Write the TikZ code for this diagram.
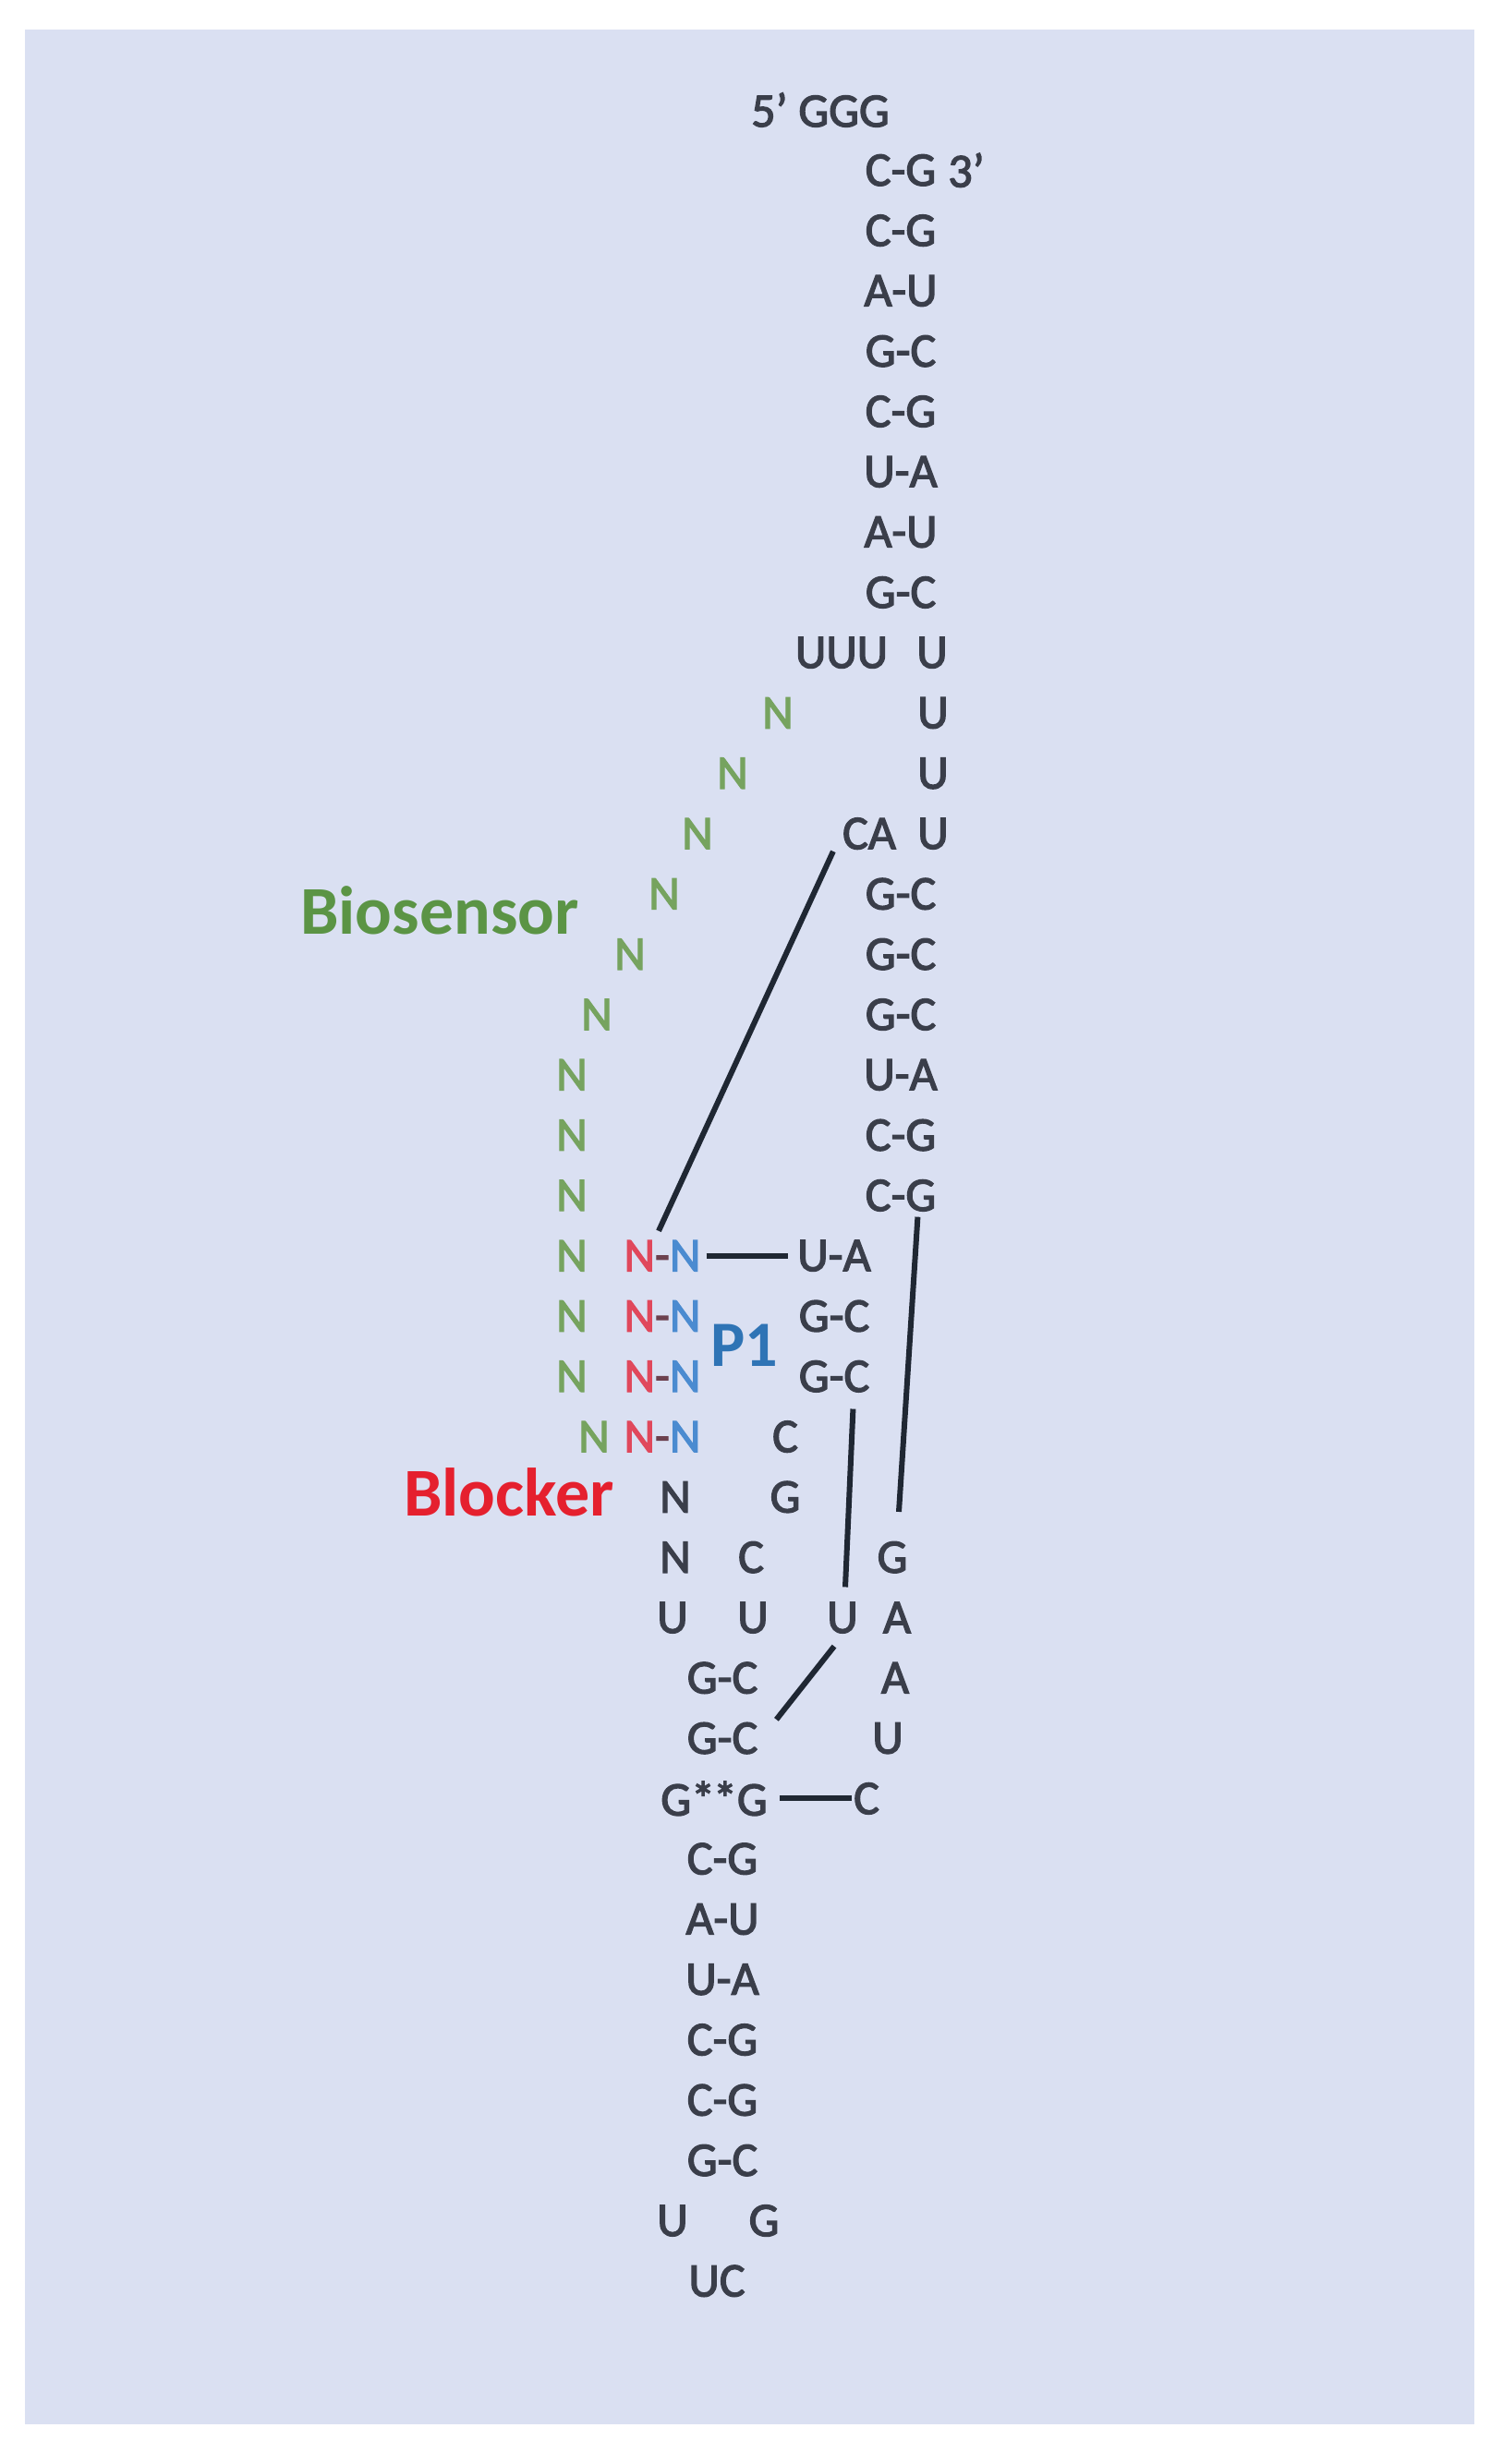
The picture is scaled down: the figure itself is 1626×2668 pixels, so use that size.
\documentclass[tikz,border=0pt]{standalone}
\usepackage{fontspec}
\setmainfont{Carlito}
\newfontfamily\nucfont{Carlito}[FakeBold=2.5]
\usetikzlibrary{calc}
\definecolor{bgc}{HTML}{DAE0F2}
\definecolor{txt}{HTML}{3A3E4A}
\definecolor{lnc}{HTML}{1F2733}
\definecolor{ngreen}{HTML}{76A35F}
\definecolor{biogreen}{HTML}{5B9445}
\definecolor{nred}{HTML}{E0485C}
\definecolor{blockred}{HTML}{E5202E}
\definecolor{nblue}{HTML}{4B8BD0}
\definecolor{ponecol}{HTML}{2F74B5}
\begin{document}
\begin{tikzpicture}[x=1pt,y=-1pt,
  nt/.style={inner sep=0pt, text=txt, font=\nucfont\fontsize{52}{60}\selectfont},
  gn/.style={nt, text=ngreen},
  lab/.style={inner sep=0pt, font=\fontsize{74}{80}\selectfont\bfseries},
  bond/.style={draw=lnc, line width=6pt}]
\fill[white] (0,0) rectangle (1626,2668);
\fill[bgc] (27,32) rectangle (1596,2625);
\useasboundingbox (0,0) rectangle (1626,2668);
% top
\node[nt] (t0) at (888,119) {5’ GGG};
\node[nt] (p1) at (975,184.3) {C-G};
\node[nt] (three) at (1046,184.3) {3’};
\node[nt] (p2) at (975,249.6) {C-G};
\node[nt] (p3) at (975,314.9) {A-U};
\node[nt] (p4) at (975,380.2) {G-C};
\node[nt] (p5) at (975,445.5) {C-G};
\node[nt] (p6) at (975,510.8) {U-A};
\node[nt] (p7) at (975,576.1) {A-U};
\node[nt] (p8) at (975,641.4) {G-C};
\node[nt] (uuu) at (911,706.7) {UUU};
\node[nt] (u9) at (1009,706.7) {U};
\node[nt] (u10) at (1010,772) {U};
\node[nt] (u11) at (1010,837.3) {U};
\node[nt] (u12) at (1010,902.6) {U};
\node[nt] (ca) at (941,902.6) {CA};
% biosensor strand
\node[gn] (n10) at (842,772) {N};
\node[gn] (n11) at (793,837.3) {N};
\node[gn] (n12) at (755,902.6) {N};
\node[gn] (n13) at (719,967.9) {N};
\node[gn] (n14) at (682,1033.2) {N};
\node[gn] (n15) at (646,1098.5) {N};
\node[gn] (n16) at (619,1163.8) {N};
\node[gn] (n17) at (619,1229.1) {N};
\node[gn] (n18) at (619,1294.4) {N};
\node[gn] (n19) at (619,1359.7) {N};
\node[gn] (n20) at (619,1425) {N};
\node[gn] (n21) at (619,1490.3) {N};
\node[gn] (n22) at (643,1555.6) {N};
\node[lab, text=biogreen] (bio) at (476,986) {Biosensor};
% middle helix
\node[nt] (q13) at (975,967.9) {G-C};
\node[nt] (q14) at (975,1033.2) {G-C};
\node[nt] (q15) at (975,1098.5) {G-C};
\node[nt] (q16) at (975,1163.8) {U-A};
\node[nt] (q17) at (975,1229.1) {C-G};
\node[nt] (q18) at (975,1294.4) {C-G};
% P1
\node[nt] (nn19) at (717,1359.7) {\textcolor{nred}{N}\textcolor{txt!70!nred}{-}\textcolor{nblue}{N}};
\node[nt] (nn20) at (717,1425) {\textcolor{nred}{N}\textcolor{txt!70!nred}{-}\textcolor{nblue}{N}};
\node[nt] (nn21) at (717,1490.3) {\textcolor{nred}{N}\textcolor{txt!70!nred}{-}\textcolor{nblue}{N}};
\node[nt] (nn22) at (717,1555.6) {\textcolor{nred}{N}\textcolor{txt!70!nred}{-}\textcolor{nblue}{N}};
\node[inner sep=0pt, font=\fontsize{70}{76}\selectfont\bfseries, text=ponecol] (pone) at (806,1457) {P1};
\node[nt] (r19) at (903,1359.7) {U-A};
\node[nt] (r20) at (903,1425) {G-C};
\node[nt] (r21) at (903,1490.3) {G-C};
\node[nt] (c22) at (850,1555.6) {C};
\node[lab, text=blockred] (blk) at (551,1616) {Blocker};
\node[nt] (n23) at (731,1620.9) {N};
\node[nt] (g23) at (850,1620.9) {G};
\node[nt] (n24) at (731,1686.2) {N};
\node[nt] (c24) at (813,1686.2) {C};
\node[nt] (g24) at (966,1686.2) {G};
\node[nt] (u25a) at (728,1751.5) {U};
\node[nt] (u25b) at (815,1751.5) {U};
\node[nt] (u25c) at (912,1751.5) {U};
\node[nt] (a25) at (971,1751.5) {A};
\node[nt] (s26) at (782,1816.8) {G-C};
\node[nt] (a26) at (969,1816.8) {A};
\node[nt] (s27) at (782,1882.1) {G-C};
\node[nt] (u27) at (961,1882.1) {U};
\node[nt] (gg) at (773,1947.4) {G*\kern-2pt*G};
\node[nt] (c28) at (938,1947.4) {C};
% bottom stem
\node[nt] (s29) at (782,2012.7) {C-G};
\node[nt] (s30) at (782,2078) {A-U};
\node[nt] (s31) at (782,2143.3) {U-A};
\node[nt] (s32) at (782,2208.6) {C-G};
\node[nt] (s33) at (782,2273.9) {C-G};
\node[nt] (s34) at (782,2339.2) {G-C};
\node[nt] (u35) at (728,2404.5) {U};
\node[nt] (g35) at (827,2404.5) {G};
\node[nt] (uc) at (776,2469.8) {UC};
% connectors
\draw[bond] ($(ca.south west)+(-10,2)$) -- ($(nn19.north)+(-4,-10)$);
\draw[bond] ($(nn19.east)+(6,0)$) -- ($(r19.west)+(-10,0)$);
\draw[bond] ($(q18.south east)+(-20,6)$) -- ($(g24.north)+(7,-32)$);
\draw[bond] ($(r21.south east)+(-18,18)$) -- ($(u25c.north)+(3,-16)$);
\draw[bond] ($(u25c.south)+(-9,14)$) -- ($(s27.north east)+(20,-3)$);
\draw[bond] ($(gg.east)+(13,0)$) -- ($(c28.west)+(-2,0)$);
\end{tikzpicture}
\end{document}
